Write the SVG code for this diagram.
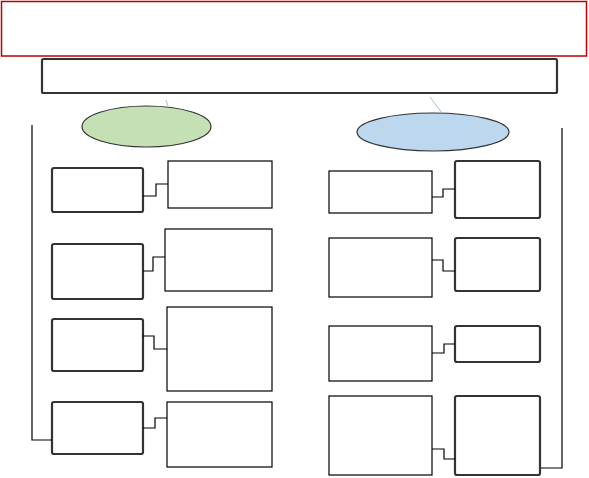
<svg xmlns="http://www.w3.org/2000/svg" width="589" height="478" viewBox="0 0 589 478">
<style>
.thick{fill:#fff;stroke:#333;stroke-width:2.2}
.thin{fill:#fff;stroke:#000;stroke-width:1.2}
.con{fill:none;stroke:#000;stroke-width:1.2}
.faint{fill:none;stroke:#a9bfd3;stroke-width:1}
</style>
<rect width="589" height="478" fill="#fff"/>
<g id="title"><rect x="1.5" y="1.5" width="585" height="54.5" fill="#fff" stroke="#c00000" stroke-width="1.5"/></g>
<g id="header"><rect x="42" y="59" width="515" height="34" rx="1.5" class="thick"/></g>
<g id="green"><ellipse cx="146.5" cy="126.5" rx="64.5" ry="20.5" fill="#c5e0b4" stroke="#333" stroke-width="1.2"/></g>
<g id="blue"><ellipse cx="433" cy="132" rx="76" ry="19" fill="#bdd7ee" stroke="#333" stroke-width="1.2"/></g>
<g id="L1"><rect x="52" y="168" width="91" height="44" rx="2" class="thick"/></g>
<g id="L2"><rect x="52" y="244" width="91" height="55" rx="2" class="thick"/></g>
<g id="L3"><rect x="52" y="319" width="91" height="52" rx="2" class="thick"/></g>
<g id="L4"><rect x="52" y="402" width="91" height="52" rx="2" class="thick"/></g>
<g id="R1"><rect x="168" y="161" width="104" height="47" class="thin"/></g>
<g id="R2"><rect x="165" y="229" width="107" height="62" class="thin"/></g>
<g id="R3"><rect x="167" y="307" width="105" height="84" class="thin"/></g>
<g id="R4"><rect x="167" y="402" width="105" height="65" class="thin"/></g>
<g id="RL1"><rect x="329" y="171" width="103" height="42" class="thin"/></g>
<g id="RL2"><rect x="329" y="238" width="103" height="59" class="thin"/></g>
<g id="RL3"><rect x="329" y="326" width="103" height="55" class="thin"/></g>
<g id="RL4"><rect x="329" y="396" width="103" height="79" class="thin"/></g>
<g id="RR1"><rect x="455" y="161" width="85" height="57" rx="2" class="thick"/></g>
<g id="RR2"><rect x="455" y="238" width="85" height="53" rx="2" class="thick"/></g>
<g id="RR3"><rect x="455" y="326" width="85" height="36" rx="2" class="thick"/></g>
<g id="RR4"><rect x="455" y="396" width="85" height="79" rx="2" class="thick"/></g>
<g id="connectors">
<path class="faint" d="M166 100 L168 106"/>
<path class="faint" d="M430 97 L442 113"/>
<path class="con" d="M32 125 V440 H52"/>
<path class="con" d="M562 128 V468 H541"/>
<path class="con" d="M143 196 H156 V184 H168"/>
<path class="con" d="M143 271 H153 V257 H165"/>
<path class="con" d="M143 336 H154 V349 H167"/>
<path class="con" d="M143 428 H155 V418 H167"/>
<path class="con" d="M432 197 H443 V189 H455"/>
<path class="con" d="M432 260 H443 V271 H455"/>
<path class="con" d="M432 353 H444 V344 H455"/>
<path class="con" d="M432 449 H444 V459 H455"/>
</g>
</svg>
